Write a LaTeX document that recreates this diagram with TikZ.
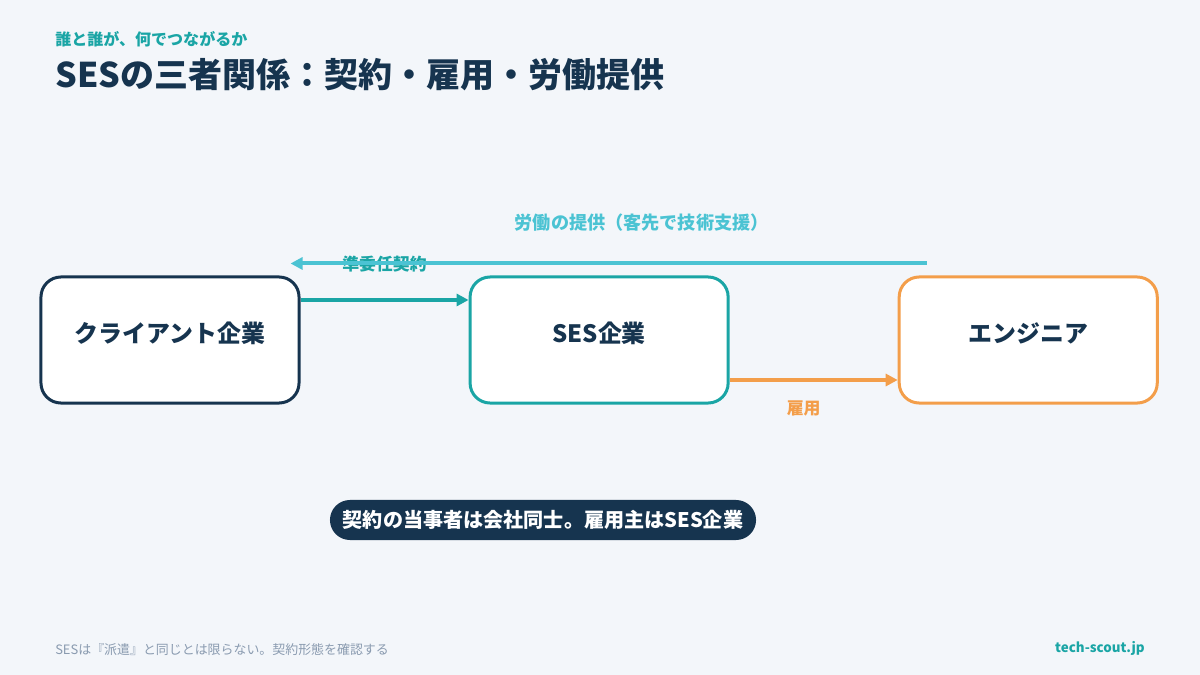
\documentclass[tikz,border=0pt]{standalone}
\usepackage{fontspec}
\setmainfont{Noto Sans CJK JP}
\usetikzlibrary{shapes,arrows.meta,positioning}

\definecolor{bgcol}{HTML}{F3F6FA}
\definecolor{navy}{HTML}{16344F}
\definecolor{teal}{HTML}{1AA5A5}
\definecolor{skyblue}{HTML}{4BC3D3}
\definecolor{orng}{HTML}{F39E4A}
\definecolor{footgray}{HTML}{8A9BB0}

\begin{document}
\begin{tikzpicture}[%
    x=0.025cm, y=-0.025cm,      % one unit is one pixel of the slide
    >={Triangle[length=0.3cm,width=0.3cm]}, % Small solid heads
    node distance=4.2cm,        % Gap between the three boxes
    ]
% -------------------------------------------------
% Box and connector styles
\tikzset{
  party/.style={draw, rounded corners=0.5cm, fill=white, line width=0.075cm,
    minimum width=6.45cm, minimum height=3.15cm, align=center,
    text height=0.53cm, text depth=0.42cm,
    font=\fontsize{17pt}{20pt}\selectfont\bfseries, text=navy},
  link/.style={->, line width=0.1cm},
  tag/.style={font=\fontsize{12pt}{14pt}\selectfont\bfseries},
  note/.style={fill=navy, text=white, rounded corners=0.5cm,
    minimum width=10.65cm, minimum height=1cm,
    font=\fontsize{14.3pt}{16pt}\selectfont\bfseries},
}
% -------------------------------------------------
% Slide background and headings
\fill [bgcol] (0,0) rectangle (1200,675);
\useasboundingbox (0,0) rectangle (1200,675);
\node [anchor=west, inner sep=0pt, text=teal,
  font=\fontsize{11.4pt}{13pt}\selectfont\bfseries] (kicker) at (55,39)
  {誰と誰が、何でつながるか};
\node [anchor=west, inner sep=0pt, text=navy,
  font=\fontsize{24.2pt}{28pt}\selectfont\bfseries] (title) at (55,75)
  {SESの三者関係：契約・雇用・労働提供};

% -------------------------------------------------
% The three parties
\node [party, draw=navy] (client) at (170,340) {クライアント企業};
\node [party, draw=teal, right = of client] (ses) {SES企業};
\node [party, draw=orng, right = of ses] (engineer) {エンジニア};

% Connectors
\draw [link, teal] ([yshift=1cm]client.east) -- ([yshift=1cm]ses.west)
  node [tag, text=teal, midway, yshift=0.9cm] (contract) {準委任契約};
\draw [link, orng] ([yshift=-1cm]ses.east) -- ([yshift=-1cm]engineer.west)
  node [tag, text=orng, midway, xshift=-0.25cm, yshift=-0.72cm] (employ) {雇用};
\coordinate (workstart) at ([xshift=0.725cm, yshift=0.3cm]engineer.north west);
\coordinate (workend) at ([xshift=-0.25cm, yshift=0.3cm]client.north east);
\draw [link, skyblue] (workstart) -- (workend)
  node [tag, text=skyblue, pos=0.448, yshift=1.02cm,
    font=\fontsize{12.9pt}{15pt}\selectfont\bfseries] (labour)
  {労働の提供（客先で技術支援）};

% -------------------------------------------------
% Key point and footer
\node [note] (point) at (543,520) {契約の当事者は会社同士。雇用主はSES企業};
\node [anchor=west, inner sep=0pt, text=footgray,
  font=\fontsize{9.2pt}{11pt}\selectfont] (caveat) at (55,650)
  {SESは『派遣』と同じとは限らない。契約形態を確認する};
\node [anchor=east, inner sep=0pt, text=teal,
  font=\fontsize{9.5pt}{11pt}\selectfont\bfseries] (site) at (1145,648)
  {tech-scout.jp};
% -------------------------------------------------
\end{tikzpicture}
\end{document}
